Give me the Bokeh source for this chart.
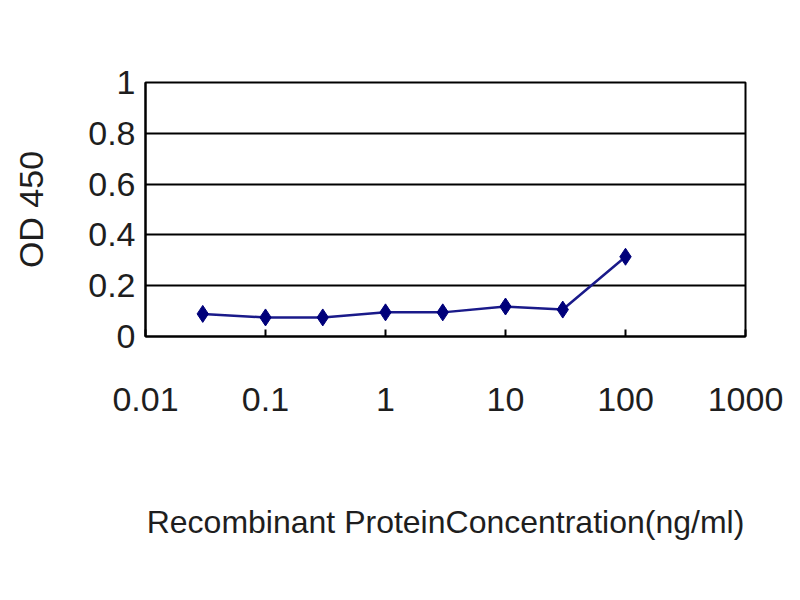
from bokeh.plotting import figure
from bokeh.models import FixedTicker, Range1d
from bokeh.embed import file_html
from bokeh.resources import INLINE

# data
concentration = [0.03, 0.1, 0.3, 1, 3, 10, 30, 100]
od450 = [0.089, 0.075, 0.075, 0.095, 0.095, 0.118, 0.106, 0.314]

x_ticks = [0.01, 0.1, 1, 10, 100, 1000]
x_tick_labels = ["0.01", "0.1", "1", "10", "100", "1000"]
y_ticks = [0, 0.2, 0.4, 0.6, 0.8, 1]
y_tick_labels = ["0", "0.2", "0.4", "0.6", "0.8", "1"]

FONT = "Liberation Sans"
TXT = "#1e1e1e"

p = figure(width=784, height=584, x_axis_type="log",
           x_range=Range1d(0.01, 1000), y_range=Range1d(0, 1),
           output_backend="svg", toolbar_location=None,
           min_border_left=145, min_border_right=39,
           min_border_top=82, min_border_bottom=248)

p.background_fill_color = "white"
p.border_fill_color = "white"
p.outline_line_color = "black"
p.outline_line_width = 2

p.line(concentration, od450, line_color="#1a1a8a", line_width=2.5)
p.scatter(concentration, od450, marker="diamond", size=17,
          fill_color="#00007a", line_color="#00007a")

# x axis
xa = p.xaxis[0]
xa.ticker = FixedTicker(ticks=x_ticks, minor_ticks=[])
xa.major_label_overrides = {t: l for t, l in zip(x_ticks, x_tick_labels)}
xa.axis_label = "Recombinant ProteinConcentration(ng/ml)"
xa.axis_label_text_font = FONT
xa.axis_label_text_font_size = "32px"
xa.axis_label_text_font_style = "normal"
xa.axis_label_text_color = TXT
xa.axis_label_standoff = 90
xa.major_label_text_font = FONT
xa.major_label_text_font_size = "34px"
xa.major_label_text_color = TXT
xa.major_label_standoff = 51
xa.major_tick_in = 7
xa.major_tick_out = 0
xa.major_tick_line_color = "black"
xa.major_tick_line_width = 2
xa.minor_tick_line_color = None
xa.axis_line_color = "black"
xa.axis_line_width = 2

# y axis
ya = p.yaxis[0]
ya.ticker = FixedTicker(ticks=y_ticks, minor_ticks=[])
ya.major_label_overrides = {t: l for t, l in zip(y_ticks, y_tick_labels)}
ya.axis_label = "OD 450"
ya.axis_label_text_font = FONT
ya.axis_label_text_font_size = "34px"
ya.axis_label_text_font_style = "normal"
ya.axis_label_text_color = TXT
ya.axis_label_standoff = 35
ya.major_label_text_font = FONT
ya.major_label_text_font_size = "34px"
ya.major_label_text_color = TXT
ya.major_label_standoff = 10
ya.major_tick_in = 0
ya.major_tick_out = 0
ya.minor_tick_line_color = None
ya.axis_line_color = "black"
ya.axis_line_width = 2

p.xgrid.grid_line_color = None
p.ygrid.grid_line_color = "black"
p.ygrid.grid_line_width = 2

open("out.html", "w").write(file_html(p, INLINE))
